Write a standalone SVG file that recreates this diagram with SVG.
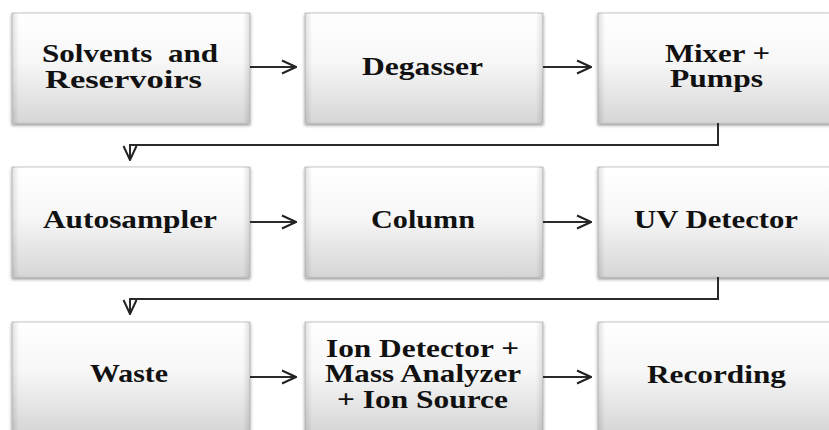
<svg xmlns="http://www.w3.org/2000/svg" width="829" height="430" viewBox="0 0 829 430">
  <defs>
    <linearGradient id="boxFill" x1="0" y1="0" x2="0" y2="1">
      <stop offset="0" stop-color="#ffffff"/>
      <stop offset="0.45" stop-color="#f7f7f7"/>
      <stop offset="1" stop-color="#d6d6d6"/>
    </linearGradient>
    <linearGradient id="sideShade" x1="0" y1="0" x2="1" y2="0">
      <stop offset="0" stop-color="#000" stop-opacity="0.12"/>
      <stop offset="0.03" stop-color="#000" stop-opacity="0"/>
      <stop offset="0.97" stop-color="#000" stop-opacity="0"/>
      <stop offset="1" stop-color="#000" stop-opacity="0.12"/>
    </linearGradient>
    <filter id="shadow" x="-5%" y="-5%" width="115%" height="120%">
      <feDropShadow dx="0" dy="2" stdDeviation="1.5" flood-color="#555" flood-opacity="0.6"/>
    </filter>
    <marker id="open" viewBox="0 0 16 16" refX="15" refY="8" markerWidth="16" markerHeight="16" markerUnits="userSpaceOnUse" orient="auto">
      <path d="M1,1.5 L15,8 L1,14.5" fill="none" stroke="#222" stroke-width="2"/>
    </marker>
  </defs>
  <style>
    .box { fill: url(#boxFill); stroke: #c8c8c8; stroke-width: 1; filter: url(#shadow); }
    .shade { fill: url(#sideShade); stroke: none; }
    .label { font-family: "Liberation Serif", "Times New Roman", serif; font-weight: bold; font-size: 25px; fill: #111; }
    .conn { fill: none; stroke: #2a2a2a; stroke-width: 2; }
  </style>
  <rect width="829" height="430" fill="#ffffff"/>

  <!-- row 1 -->
  <g id="solvents">
    <rect class="box" x="12" y="13" width="238" height="110"/>
    <rect class="shade" x="12" y="13" width="238" height="110"/>
    <text class="label" x="42" y="62" textLength="176" lengthAdjust="spacingAndGlyphs" xml:space="preserve">Solvents  and</text>
    <text class="label" x="45" y="88" textLength="157" lengthAdjust="spacingAndGlyphs">Reservoirs</text>
  </g>
  <g id="degasser">
    <rect class="box" x="305" y="13" width="238" height="110"/>
    <rect class="shade" x="305" y="13" width="238" height="110"/>
    <text class="label" x="362" y="75" textLength="121" lengthAdjust="spacingAndGlyphs">Degasser</text>
  </g>
  <g id="mixer">
    <rect class="box" x="598" y="13" width="238" height="110"/>
    <rect class="shade" x="598" y="13" width="238" height="110"/>
    <text class="label" x="665" y="62" textLength="105" lengthAdjust="spacingAndGlyphs">Mixer +</text>
    <text class="label" x="670" y="87" textLength="93" lengthAdjust="spacingAndGlyphs">Pumps</text>
  </g>

  <!-- row 2 -->
  <g id="autosampler">
    <rect class="box" x="12" y="167" width="238" height="110"/>
    <rect class="shade" x="12" y="167" width="238" height="110"/>
    <text class="label" x="43" y="228" textLength="174" lengthAdjust="spacingAndGlyphs">Autosampler</text>
  </g>
  <g id="column">
    <rect class="box" x="305" y="167" width="238" height="110"/>
    <rect class="shade" x="305" y="167" width="238" height="110"/>
    <text class="label" x="371" y="228" textLength="104" lengthAdjust="spacingAndGlyphs">Column</text>
  </g>
  <g id="uv-detector">
    <rect class="box" x="598" y="167" width="238" height="110"/>
    <rect class="shade" x="598" y="167" width="238" height="110"/>
    <text class="label" x="634" y="228" textLength="164" lengthAdjust="spacingAndGlyphs">UV Detector</text>
  </g>

  <!-- row 3 -->
  <g id="waste">
    <rect class="box" x="12" y="322" width="238" height="110"/>
    <rect class="shade" x="12" y="322" width="238" height="110"/>
    <text class="label" x="90" y="382" textLength="78" lengthAdjust="spacingAndGlyphs">Waste</text>
  </g>
  <g id="mass-spec">
    <rect class="box" x="305" y="322" width="238" height="110"/>
    <rect class="shade" x="305" y="322" width="238" height="110"/>
    <text class="label" x="326" y="357" textLength="193" lengthAdjust="spacingAndGlyphs">Ion Detector +</text>
    <text class="label" x="325" y="382" textLength="196" lengthAdjust="spacingAndGlyphs">Mass Analyzer</text>
    <text class="label" x="337" y="408" textLength="171" lengthAdjust="spacingAndGlyphs">+ Ion Source</text>
  </g>
  <g id="recording">
    <rect class="box" x="598" y="322" width="238" height="110"/>
    <rect class="shade" x="598" y="322" width="238" height="110"/>
    <text class="label" x="647" y="383" textLength="139" lengthAdjust="spacingAndGlyphs">Recording</text>
  </g>

  <!-- connectors -->
  <g id="connectors">
    <path class="conn" d="M250,67 H296" marker-end="url(#open)"/>
    <path class="conn" d="M543,67 H591" marker-end="url(#open)"/>
    <path class="conn" d="M718,123 V145 H130 V160" marker-end="url(#open)"/>
    <path class="conn" d="M250,222 H296" marker-end="url(#open)"/>
    <path class="conn" d="M543,222 H591" marker-end="url(#open)"/>
    <path class="conn" d="M718,277 V299 H130 V314" marker-end="url(#open)"/>
    <path class="conn" d="M250,377 H296" marker-end="url(#open)"/>
    <path class="conn" d="M543,377 H591" marker-end="url(#open)"/>
  </g>
</svg>
